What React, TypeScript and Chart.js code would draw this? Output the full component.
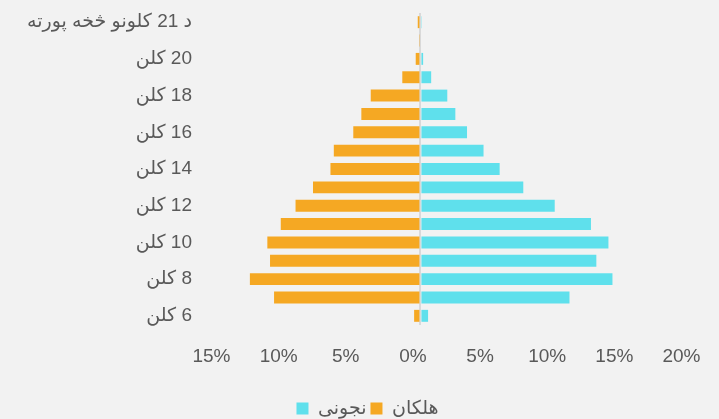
import React, { useEffect, useRef } from "react";
import { Chart, registerables } from "chart.js";

Chart.register(...registerables);

// Age groups, bottom to top: 6 … 21 years and "above 21 years"
const ageLabels: string[] = [
  "6 کلن", "7 کلن", "8 کلن", "9 کلن", "10 کلن", "11 کلن", "12 کلن", "13 کلن",
  "14 کلن", "15 کلن", "16 کلن", "17 کلن", "18 کلن", "19 کلن", "20 کلن", "21 کلن",
  "د 21 کلونو څخه پورته",
];

const girls: number[] = [0.57, 11.1, 14.3, 13.1, 14.0, 12.7, 10.0, 7.66, 5.9, 4.7, 3.47, 2.6, 2.0, 0.8, 0.2, 0.0, 0.05];
const boys: number[] = [0.47, 10.9, 12.7, 11.2, 11.4, 10.4, 9.3, 8.0, 6.7, 6.45, 5.0, 4.4, 3.7, 1.35, 0.35, 0.1, 0.2];

const girlsLabel = "نجونی";
const boysLabel = "هلکان";

const FONT = "'Liberation Sans', Arial, 'DejaVu Sans', sans-serif";
const TEXT = "#595959";
const RLM = "\u200F";

const shiftLegend = {
  id: "shiftLegend",
  afterLayout(chart: any) {
    const lg = chart.legend;
    if (lg) {
      lg.left += 23;
      lg.right += 23;
    }
  },
};

export default function App() {
  const ref = useRef<HTMLCanvasElement | null>(null);
  useEffect(() => {
    if (!ref.current) return;
    const chart = new Chart(ref.current, {
      type: "bar",
      data: {
        labels: ageLabels,
        datasets: [
          {
            label: girlsLabel,
            data: girls,
            backgroundColor: "#5FE0EC",
            borderWidth: 0,
            barPercentage: 0.65,
            categoryPercentage: 1,
          },
          {
            label: boysLabel,
            data: boys.map((v) => -v),
            backgroundColor: "#F5A823",
            borderWidth: 0,
            barPercentage: 0.65,
            categoryPercentage: 1,
          },
        ],
      },
      options: {
        indexAxis: "y",
        responsive: false,
        animation: false,
        layout: { padding: { top: 13, right: 30, left: 0, bottom: -9 } },
        scales: {
          x: {
            type: "linear",
            stacked: true,
            min: -15,
            max: 20,
            afterFit: (s: any) => {
              s.height = 70;
              s.paddingLeft = 0;
              s.paddingRight = 0;
            },
            ticks: {
              stepSize: 5,
              padding: 20,
              labelOffset: -7.5,
              color: TEXT,
              font: { family: FONT, size: 19 },
              callback: (v: any) => Math.abs(Number(v)) + "%",
            },
            grid: {
              drawTicks: false,
              lineWidth: 2,
              color: (ctx: any) => (ctx.tick && ctx.tick.value === 0 ? "#d9d9d9" : "rgba(0,0,0,0)"),
            },
            border: { display: false },
          },
          y: {
            type: "category",
            stacked: true,
            reverse: true,
            afterFit: (s: any) => {
              s.width = 219;
              s.paddingTop = 0;
              s.paddingBottom = 0;
            },
            ticks: {
              autoSkip: false,
              padding: 27,
              color: TEXT,
              font: { family: FONT, size: 19 },
              callback: (_v: any, i: number) => (i % 2 === 0 ? RLM + ageLabels[i] : ""),
            },
            grid: { display: false, drawTicks: false },
            border: { display: false },
          },
        },
        plugins: {
          legend: {
            position: "bottom",
            labels: {
              boxWidth: 12,
              boxHeight: 12,
              padding: 4,
              color: TEXT,
              font: { family: FONT, size: 19 },
            },
          },
          tooltip: { enabled: false },
        },
      },
      plugins: [shiftLegend],
    });
    return () => chart.destroy();
  }, []);
  return (
    <div style={{ position: "absolute", left: 0, top: 0, width: 719, height: 419, background: "#F2F2F2" }}>
      <canvas ref={ref} width={719} height={419} style={{ display: "block" }} />
    </div>
  );
}
